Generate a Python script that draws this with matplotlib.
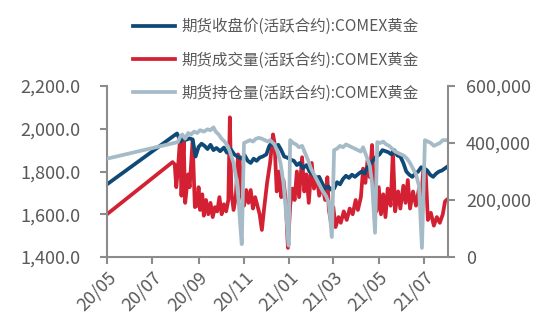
import matplotlib
matplotlib.use("Agg")
import matplotlib.pyplot as plt
import matplotlib.dates as mdates
from matplotlib.ticker import FuncFormatter, MultipleLocator
import numpy as np
import pandas as pd

plt.rcParams['font.family'] = ['Noto Sans CJK SC', 'DejaVu Sans']

# 期货收盘价 (left axis)
price_dates = [
    "2020-05-01", "2020-08-03", "2020-08-06", "2020-08-08", "2020-08-12", "2020-08-15",
    "2020-08-20", "2020-08-24", "2020-08-28", "2020-09-01", "2020-09-05", "2020-09-09",
    "2020-09-13", "2020-09-17", "2020-09-21", "2020-09-25", "2020-09-30", "2020-10-05",
    "2020-10-09", "2020-10-14", "2020-10-19", "2020-10-23", "2020-10-28", "2020-11-02",
    "2020-11-06", "2020-11-10", "2020-11-14", "2020-11-18", "2020-11-22", "2020-11-26",
    "2020-12-01", "2020-12-05", "2020-12-09", "2020-12-13", "2020-12-17", "2020-12-21",
    "2020-12-25", "2020-12-29", "2021-01-03", "2021-01-07", "2021-01-11", "2021-01-15",
    "2021-01-19", "2021-01-24", "2021-01-28", "2021-02-02", "2021-02-06", "2021-02-10",
    "2021-02-14", "2021-02-18", "2021-02-22", "2021-02-26", "2021-03-02", "2021-03-06",
    "2021-03-10", "2021-03-14", "2021-03-18", "2021-03-22", "2021-03-26", "2021-03-30",
    "2021-04-04", "2021-04-08", "2021-04-12", "2021-04-16", "2021-04-20", "2021-04-24",
    "2021-04-28", "2021-05-02", "2021-05-06", "2021-05-10", "2021-05-14", "2021-05-18",
    "2021-05-22", "2021-05-26", "2021-05-30", "2021-06-03", "2021-06-07", "2021-06-11",
    "2021-06-15", "2021-06-19", "2021-06-23", "2021-06-27", "2021-07-01", "2021-07-05",
    "2021-07-09", "2021-07-13", "2021-07-17", "2021-07-21", "2021-07-25", "2021-07-31",
]
price = [
    1740, 1978, 1955, 1940, 1958, 1948,
    1955, 1950, 1870, 1915, 1930, 1920,
    1905, 1925, 1900, 1910, 1895, 1912,
    1888, 1905, 1880, 1870, 1860, 1875,
    1850, 1840, 1860, 1850, 1865, 1870,
    1880, 1920, 1935, 1915, 1925, 1900,
    1870, 1865, 1855, 1850, 1830, 1840,
    1815, 1830, 1800, 1785, 1770, 1775,
    1745, 1720, 1730, 1715, 1720, 1750,
    1740, 1765, 1780, 1770, 1785, 1775,
    1790, 1800, 1790, 1820, 1835, 1855,
    1870, 1880, 1900, 1895, 1890, 1880,
    1900, 1875, 1870, 1840, 1800, 1785,
    1775, 1790, 1800, 1820, 1815, 1805,
    1785, 1775, 1790, 1800, 1805, 1820,
]

# 期货成交量 (right axis)
vol_dates = [
    "2020-05-01", "2020-07-28", "2020-07-31", "2020-08-02", "2020-08-04", "2020-08-07",
    "2020-08-09", "2020-08-12", "2020-08-14", "2020-08-18", "2020-08-20", "2020-08-24",
    "2020-08-27", "2020-08-30", "2020-09-01", "2020-09-03", "2020-09-06", "2020-09-08",
    "2020-09-11", "2020-09-14", "2020-09-17", "2020-09-20", "2020-09-23", "2020-09-26",
    "2020-09-29", "2020-10-02", "2020-10-05", "2020-10-08", "2020-10-11", "2020-10-13",
    "2020-10-15", "2020-10-18", "2020-10-21", "2020-10-24", "2020-10-26", "2020-10-29",
    "2020-11-01", "2020-11-04", "2020-11-07", "2020-11-10", "2020-11-13", "2020-11-16",
    "2020-11-19", "2020-11-22", "2020-11-25", "2020-11-28", "2020-12-02", "2020-12-06",
    "2020-12-10", "2020-12-12", "2020-12-15", "2020-12-18", "2020-12-21", "2020-12-24",
    "2020-12-27", "2020-12-30", "2021-01-02", "2021-01-05", "2021-01-08", "2021-01-11",
    "2021-01-14", "2021-01-18", "2021-01-21", "2021-01-24", "2021-01-27", "2021-01-31",
    "2021-02-03", "2021-02-07", "2021-02-10", "2021-02-14", "2021-02-18", "2021-02-21",
    "2021-02-23", "2021-02-26", "2021-03-01", "2021-03-04", "2021-03-08", "2021-03-11",
    "2021-03-15", "2021-03-19", "2021-03-23", "2021-03-27", "2021-03-31", "2021-04-03",
    "2021-04-07", "2021-04-10", "2021-04-13", "2021-04-16", "2021-04-19", "2021-04-22",
    "2021-04-25", "2021-04-28", "2021-05-01", "2021-05-04", "2021-05-07", "2021-05-10",
    "2021-05-13", "2021-05-17", "2021-05-20", "2021-05-23", "2021-05-27", "2021-05-30",
    "2021-06-03", "2021-06-06", "2021-06-09", "2021-06-12", "2021-06-16", "2021-06-20",
    "2021-06-24", "2021-06-27", "2021-06-30", "2021-07-03", "2021-07-06", "2021-07-10",
    "2021-07-14", "2021-07-18", "2021-07-22", "2021-07-26", "2021-07-29", "2021-07-31",
]
vol_k = [
    150, 333, 325, 245, 300, 410,
    215, 410, 190, 290, 245, 410,
    175, 180, 245, 165, 220, 145,
    200, 150, 190, 140, 175, 160,
    210, 150, 185, 160, 200, 490,
    230, 165, 210, 360, 350, 210,
    180, 235, 190, 235, 170, 210,
    180, 150, 95, 170, 260, 330,
    430, 400, 230, 300, 210, 270,
    200, 32, 180, 240, 200, 300,
    210, 350, 230, 290, 190, 330,
    240, 280, 215, 250, 200, 280,
    165, 120, 175, 105, 140, 120,
    160, 130, 170, 150, 200, 165,
    210, 310, 260, 340, 280, 393,
    200, 160, 245, 150, 220, 140,
    240, 180, 375, 160, 230, 170,
    250, 190, 270, 170, 230, 180,
    240, 200, 310, 300, 130, 155,
    110, 140, 120, 150, 195, 200,
]

# 期货持仓量 (right axis)
oi_dates = [
    "2020-05-01", "2020-08-04", "2020-08-07", "2020-08-10", "2020-08-14", "2020-08-18",
    "2020-08-22", "2020-08-26", "2020-08-30", "2020-09-03", "2020-09-08", "2020-09-13",
    "2020-09-17", "2020-09-21", "2020-09-24", "2020-09-28", "2020-10-02", "2020-10-06",
    "2020-10-10", "2020-10-13", "2020-10-18", "2020-10-22", "2020-10-25", "2020-10-27",
    "2020-10-29", "2020-11-01", "2020-11-05", "2020-11-09", "2020-11-13", "2020-11-17",
    "2020-11-21", "2020-11-25", "2020-11-29", "2020-12-03", "2020-12-06", "2020-12-12",
    "2020-12-16", "2020-12-20", "2020-12-24", "2020-12-27", "2020-12-31", "2021-01-02",
    "2021-01-06", "2021-01-10", "2021-01-14", "2021-01-18", "2021-01-22", "2021-01-26",
    "2021-01-30", "2021-02-03", "2021-02-07", "2021-02-11", "2021-02-15", "2021-02-19",
    "2021-02-23", "2021-02-27", "2021-03-02", "2021-03-06", "2021-03-10", "2021-03-14",
    "2021-03-18", "2021-03-22", "2021-03-26", "2021-03-30", "2021-04-03", "2021-04-07",
    "2021-04-10", "2021-04-15", "2021-04-19", "2021-04-22", "2021-04-26", "2021-04-29",
    "2021-05-03", "2021-05-07", "2021-05-11", "2021-05-15", "2021-05-19", "2021-05-23",
    "2021-05-27", "2021-05-31", "2021-06-04", "2021-06-08", "2021-06-12", "2021-06-16",
    "2021-06-20", "2021-06-24", "2021-06-28", "2021-07-02", "2021-07-06", "2021-07-10",
    "2021-07-14", "2021-07-18", "2021-07-22", "2021-07-26", "2021-07-31",
]
oi_k = [
    345, 403, 420, 430, 415, 435,
    430, 440, 435, 445, 440, 448,
    445, 455, 440, 430, 415, 405,
    390, 370, 330, 270, 190, 110,
    45, 400, 405, 410, 405, 415,
    418, 415, 410, 405, 410, 395,
    370, 330, 260, 170, 40, 410,
    400, 395, 385, 390, 365, 340,
    310, 290, 270, 250, 230, 215,
    190, 70, 375, 380, 390, 385,
    395, 390, 385, 380, 375, 370,
    385, 350, 320, 260, 85, 403,
    400, 405, 395, 390, 380, 370,
    365, 360, 355, 345, 330, 310,
    290, 250, 32, 410, 405, 400,
    390, 395, 400, 410, 410,
]

labels = ["期货收盘价(活跃合约):COMEX黄金",
          "期货成交量(活跃合约):COMEX黄金",
          "期货持仓量(活跃合约):COMEX黄金"]
colors = ["#0F4A77", "#D42033", "#A6BBC8"]
text_grey = "#595959"
spine_grey = "#8C8C8C"
lw = 2.7

fig = plt.figure(figsize=(5.5, 3.27), dpi=100)
rect = [107 / 550, 70 / 327, 341 / 550, 171 / 327]
ax = fig.add_axes(rect)
ax_vol = ax.twinx()   # volume, drawn beneath the price line
ax_oi = ax.twinx()    # open interest, drawn on top; carries the right axis
ax_vol.set_zorder(0)
ax.set_zorder(1)
ax_oi.set_zorder(2)
ax.patch.set_visible(False)
ax_oi.patch.set_visible(False)

l1, = ax.plot(pd.to_datetime(price_dates), price, color=colors[0], lw=lw, label=labels[0])
l2, = ax_vol.plot(pd.to_datetime(vol_dates), np.array(vol_k) * 1000, color=colors[1], lw=lw, label=labels[1])
l3, = ax_oi.plot(pd.to_datetime(oi_dates), np.array(oi_k) * 1000, color=colors[2], lw=lw, label=labels[2])

ax.set_ylim(1400, 2200)
ax.yaxis.set_major_locator(MultipleLocator(200))
ax.yaxis.set_major_formatter(FuncFormatter(lambda v, p: f"{v:,.1f}"))
for a in (ax_vol, ax_oi):
    a.set_ylim(0, 600000)
    a.yaxis.set_major_locator(MultipleLocator(200000))
    a.yaxis.set_major_formatter(FuncFormatter(lambda v, p: f"{v:,.0f}"))
ax_vol.tick_params(axis="y", right=False, labelright=False)

ax.set_xlim(pd.Timestamp("2020-05-01"), pd.Timestamp("2021-08-02"))
ax.xaxis.set_major_locator(mdates.MonthLocator(bymonth=[1, 3, 5, 7, 9, 11]))
ax.xaxis.set_major_formatter(mdates.DateFormatter("%y/%m"))

for a in (ax, ax_vol, ax_oi):
    for s in a.spines.values():
        s.set_visible(False)
    a.tick_params(colors=spine_grey, labelcolor=text_grey, labelsize=13,
                  length=5, width=1.5, direction="out")
ax.tick_params(axis="y", pad=14)
ax.tick_params(axis="x", pad=3)
ax_oi.tick_params(axis="y", pad=8)
ax.spines["left"].set_visible(True)
ax.spines["bottom"].set_visible(True)
ax_oi.spines["right"].set_visible(True)
for s in (ax.spines["left"], ax.spines["bottom"], ax_oi.spines["right"]):
    s.set_color(spine_grey)
    s.set_linewidth(1.5)

for lab in ax.get_xticklabels():
    lab.set_rotation(45)
    lab.set_ha("right")
    lab.set_rotation_mode("anchor")

fig.legend(handles=[l1, l2, l3], loc="upper left",
           bbox_to_anchor=(133 / 550, 1 - 18 / 327), frameon=False,
           fontsize=11.2, labelcolor=text_grey, handlelength=2.7,
           handletextpad=0.4, labelspacing=1.05, borderpad=0, borderaxespad=0)

fig.savefig("out.png", dpi=100)
